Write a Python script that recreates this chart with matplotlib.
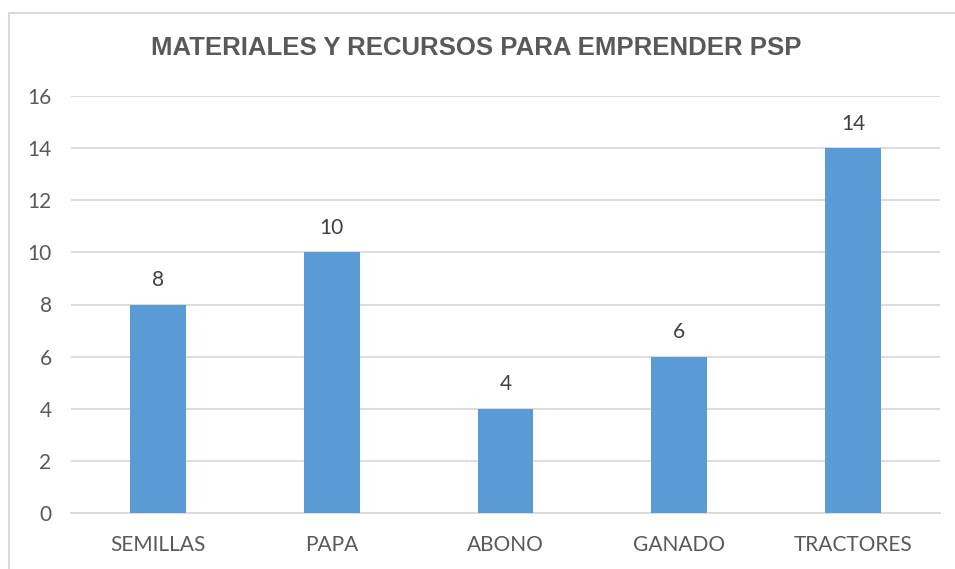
import matplotlib
matplotlib.use("Agg")
import matplotlib.pyplot as plt
from matplotlib.patches import Rectangle

categories = ["SEMILLAS", "PAPA", "ABONO", "GANADO", "TRACTORES"]
values = [8, 10, 4, 6, 14]
yticks = [0, 2, 4, 6, 8, 10, 12, 14, 16]
title = "MATERIALES Y RECURSOS PARA EMPRENDER PSP"

fig = plt.figure(figsize=(9.55, 5.69), dpi=100)
ax = fig.add_axes([71/955, 1-513/569, (940-71)/955, (513-96)/569])

x = list(range(len(categories)))
bars = ax.bar(x, values, width=0.32, color="#5B9BD5", zorder=3)
for xi, v in zip(x, values):
    ax.text(xi, v + 0.55, str(v), ha="center", va="bottom", fontsize=15,
            color="#404040", family="Lato")

ax.set_xlim(-0.5, len(categories) - 0.5)
ax.set_ylim(0, 16)
ax.set_yticks(yticks)
ax.set_xticks(x)
ax.set_xticklabels(categories)
ax.yaxis.grid(True, color="#D9D9D9", linewidth=1.3, zorder=0)
ax.set_axisbelow(True)
for s in ["top", "right", "left"]:
    ax.spines[s].set_visible(False)
ax.spines["bottom"].set_color("#D9D9D9")
ax.spines["bottom"].set_linewidth(1.3)
ax.tick_params(axis="both", length=0, labelsize=15, labelcolor="#595959")
ax.tick_params(axis="y", pad=14)
ax.tick_params(axis="x", pad=16)
for lab in ax.get_xticklabels() + ax.get_yticklabels():
    lab.set_family("Lato")

fig.text(476/955, 1-48/569, title, ha="center", va="center", fontsize=18.5,
         fontweight="bold", color="#595959", family="Liberation Sans")

fig.patches.append(Rectangle((9/955, -0.1), 2, (569-13)/569 + 0.1,
                             transform=fig.transFigure, fill=False,
                             edgecolor="#D9D9D9", linewidth=1.5))

fig.savefig("out.png", dpi=100)
